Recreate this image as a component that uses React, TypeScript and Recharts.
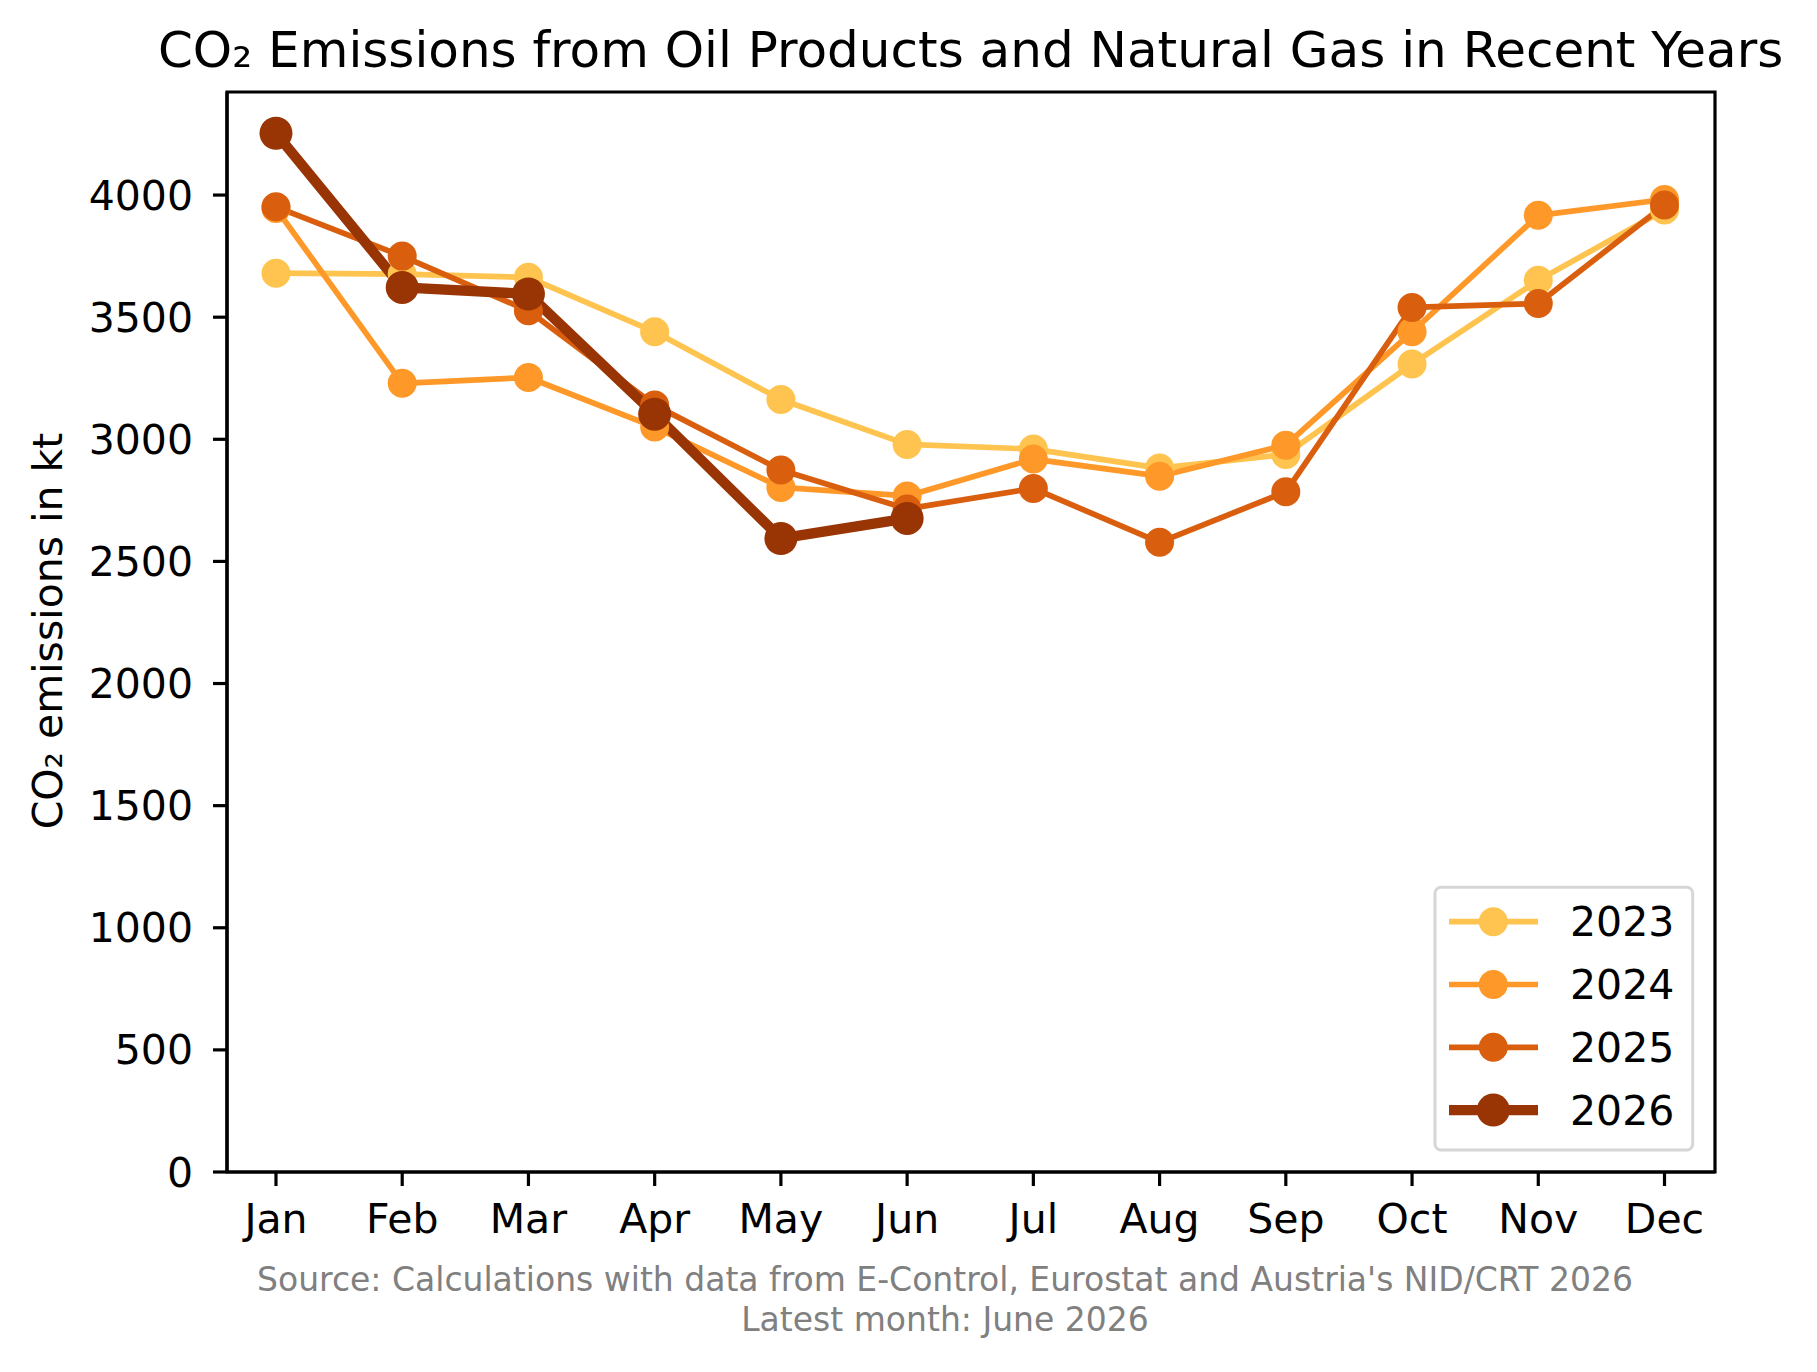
import React from 'react';
import { LineChart, Line, XAxis, YAxis, Legend, ReferenceArea } from 'recharts';

const months = ['Jan', 'Feb', 'Mar', 'Apr', 'May', 'Jun', 'Jul', 'Aug', 'Sep', 'Oct', 'Nov', 'Dec'];
const years = ['2023', '2024', '2025', '2026'];

const v2023 = [3680, 3676, 3663, 3440, 3163, 2979, 2960, 2882, 2938, 3308, 3651, 3939];
const v2024 = [3945, 3229, 3253, 3050, 2803, 2768, 2919, 2849, 2976, 3440, 3917, 3982];
const v2025 = [3952, 3750, 3526, 3140, 2874, 2715, 2799, 2578, 2785, 3540, 3556, 3959];
const v2026 = [4253, 3622, 3595, 3103, 2594, 2676];

const yTicks = [0, 500, 1000, 1500, 2000, 2500, 3000, 3500, 4000];
const yMax = 4422;
const xMin = -0.388;
const xMax = 11.4;
const xTicks = months.map((_, i) => i);

const colors = ['#fec44f', '#fe9929', '#d95f0e', '#993404'];
const lineWidths = [5.7, 5.7, 5.7, 10.3];
const dotRadii = [14.5, 14.5, 14.5, 16.5];

const series = [v2023, v2024, v2025, v2026];

const data = months.map((m, i) => {
  const row: Record<string, any> = { idx: i, month: m };
  years.forEach((y, k) => {
    row['y' + y] = series[k][i];
  });
  return row;
});

const FONT = '"DejaVu Sans", Verdana, sans-serif';

const renderLegend = (props: any) => {
  const payload = props.payload || [];
  return (
    <svg width={290} height={300} style={{ display: 'block', overflow: 'visible' }}>
      <rect x={15} y={17.3} width={257.7} height={262.7} rx={6} ry={6} fill="#ffffff" fillOpacity={0.8} stroke="#d6d6d6" strokeWidth={3} />
      {payload.map((e: any, i: number) => {
        const idx = years.indexOf(String(e.value));
        const k = idx >= 0 ? idx : i;
        const cy = 51.7 + i * 62.8;
        return (
          <g key={String(e.value)}>
            <line x1={29} x2={118} y1={cy} y2={cy} stroke={colors[k]} strokeWidth={lineWidths[k]} />
            <circle cx={73.3} cy={cy} r={dotRadii[k]} fill={colors[k]} />
            <text x={150} y={cy + 14.5} fontSize={41} fontFamily={FONT} fill="#000">{e.value}</text>
          </g>
        );
      })}
    </svg>
  );
};

export default function App() {
  return (
    <div style={{ position: 'absolute', left: 0, top: 0, width: 1817, height: 1372, background: '#fff' }}>
      <LineChart
        width={1817}
        height={1372}
        data={data}
        margin={{ top: 92, right: 102, bottom: 0, left: 0 }}
      >
        <XAxis
          dataKey="idx"
          type="number"
          domain={[xMin, xMax]}
          ticks={xTicks}
          tickFormatter={(v: number) => months[v] ?? ''}
          allowDataOverflow
          height={200}
          tickSize={14}
          tickMargin={18}
          tick={{ fontSize: 41, fill: '#000', fontFamily: FONT }}
          tickLine={{ stroke: '#000', strokeWidth: 3.2 }}
          axisLine={{ stroke: '#000', strokeWidth: 3.2 }}
          interval={0}
        />
        <YAxis
          width={227}
          domain={[0, yMax]}
          ticks={yTicks}
          allowDataOverflow
          tickSize={14}
          tickMargin={20}
          tick={{ fontSize: 41, fill: '#000', fontFamily: FONT }}
          tickLine={{ stroke: '#000', strokeWidth: 3.2 }}
          axisLine={{ stroke: '#000', strokeWidth: 3.2 }}
        />
        <ReferenceArea
          x1={xMin}
          x2={xMax}
          y1={0}
          y2={yMax}
          fill="none"
          fillOpacity={0}
          stroke="#000"
          strokeWidth={3.2}
          ifOverflow="visible"
        />
        {years.map((y, k) => (
          <Line
            key={y}
            type="linear"
            dataKey={'y' + y}
            name={y}
            stroke={colors[k]}
            strokeWidth={lineWidths[k]}
            strokeLinejoin="round"
            dot={{ r: dotRadii[k], fill: colors[k], stroke: 'none', strokeWidth: 0 }}
            activeDot={false}
            isAnimationActive={false}
            connectNulls={false}
          />
        ))}
        <Legend
          layout="vertical"
          align="center"
          verticalAlign="middle"
          content={renderLegend}
          wrapperStyle={{ position: 'absolute', left: 1420, top: 870, width: 290, height: 300 }}
        />
      </LineChart>
      <svg
        width={1817}
        height={1372}
        style={{ position: 'absolute', left: 0, top: 0, pointerEvents: 'none' }}
      >
        <text x={970.6} y={67.3} textAnchor="middle" fontSize={50} fontFamily={FONT} fill="#000">
          CO₂ Emissions from Oil Products and Natural Gas in Recent Years
        </text>
        <text
          x={62}
          y={631}
          textAnchor="middle"
          fontSize={41}
          fontFamily={FONT}
          fill="#000"
          transform="rotate(-90 62 631)"
        >
          CO₂ emissions in kt
        </text>
        <text x={945} y={1290.7} textAnchor="middle" fontSize={33} fontFamily={FONT} fill="#808080">
          Source: Calculations with data from E-Control, Eurostat and Austria's NID/CRT 2026
        </text>
        <text x={945} y={1331} textAnchor="middle" fontSize={33} fontFamily={FONT} fill="#808080">
          Latest month: June 2026
        </text>
      </svg>
    </div>
  );
}
